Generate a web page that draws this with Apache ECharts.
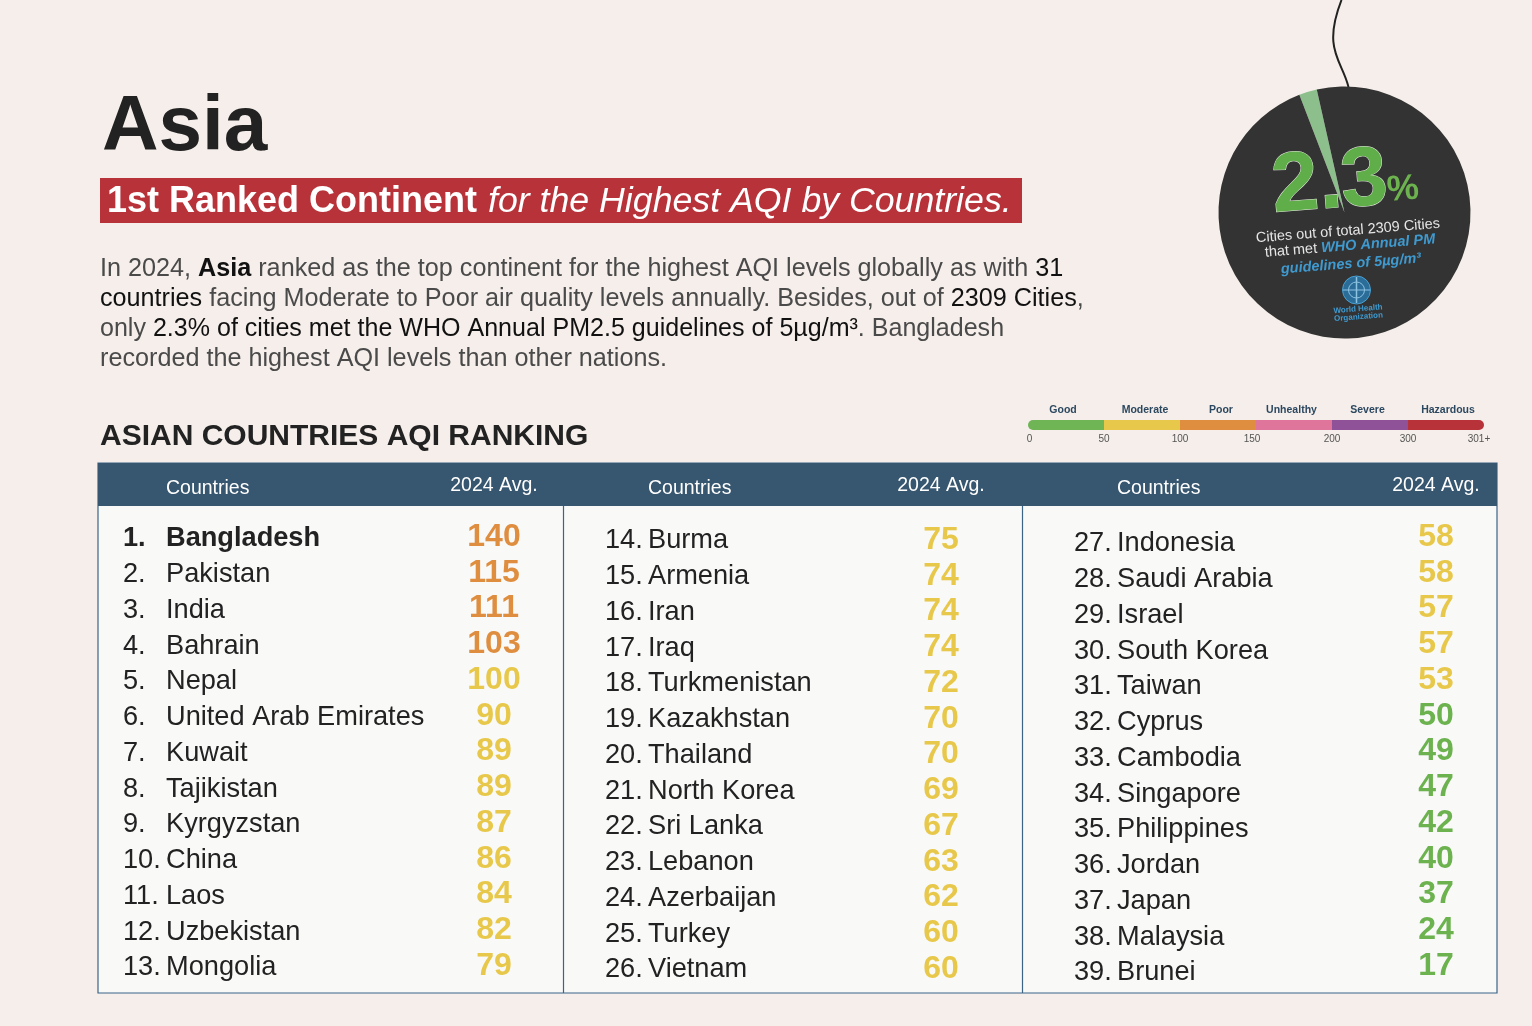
<!DOCTYPE html>
<html><head><meta charset="utf-8">
<style>html,body{margin:0;padding:0;background:#F5EEEA}#c{width:1532px;height:1026px}</style>
<script src="https://cdn.jsdelivr.net/npm/echarts@6/dist/echarts.min.js"></script>
</head><body><div id="c"></div>
<script>
const countriesA = ['Bangladesh','Pakistan','India','Bahrain','Nepal','United Arab Emirates','Kuwait','Tajikistan','Kyrgyzstan','China','Laos','Uzbekistan','Mongolia'];
const valuesA = [140,115,111,103,100,90,89,89,87,86,84,82,79];
const countriesB = ['Burma','Armenia','Iran','Iraq','Turkmenistan','Kazakhstan','Thailand','North Korea','Sri Lanka','Lebanon','Azerbaijan','Turkey','Vietnam'];
const valuesB = [75,74,74,74,72,70,70,69,67,63,62,60,60];
const countriesC = ['Indonesia','Saudi Arabia','Israel','South Korea','Taiwan','Cyprus','Cambodia','Singapore','Philippines','Jordan','Japan','Malaysia','Brunei'];
const valuesC = [58,58,57,57,53,50,49,47,42,40,37,24,17];
const legendNames = ['Good','Moderate','Poor','Unhealthy','Severe','Hazardous'];
const legendTicks = ['0','50','100','150','200','300','301+'];
const legendColors = ['#6FB455','#E8C84A','#DF8E3F','#E0759C','#8F5198','#B8323A'];
const metShare = [2.3, 97.7];

const FONT = '"Liberation Sans", Arial, sans-serif';
const ROW = 35.75;
const INK = '#222222', SOFT = '#4a4a4a', NAVY = '#37566F';
const FS = 27.2;

function aqiColor(v){ return v <= 50 ? '#6CB24F' : v <= 100 ? '#E8C84A' : '#DF8E3F'; }

const cols = [
  {names:countriesA, vals:valuesA, first:1,  nameLeft:123,  nameY:539, valX:494,  valY:537, hdrX:166},
  {names:countriesB, vals:valuesB, first:14, nameLeft:605,  nameY:541, valX:941,  valY:540, hdrX:648},
  {names:countriesC, vals:valuesC, first:27, nameLeft:1074, nameY:544, valX:1436, valY:537, hdrX:1117}
];

const grid=[], xAxis=[], yAxis=[], series=[];
cols.forEach((c,k)=>{
  const gi = grid.length;
  grid.push({left:c.nameLeft, top:c.nameY-ROW/2, width:330, height:ROW*13});
  xAxis.push({gridIndex:gi, type:'value', min:0, max:1, show:false});
  yAxis.push({gridIndex:gi, type:'category', inverse:true, data:c.names,
    axisLine:{show:false}, axisTick:{show:false}, splitLine:{show:false},
    axisLabel:{inside:true, margin:0, interval:0, align:'left', color:INK, fontFamily:FONT, fontSize:FS,
      formatter:(v,i)=>{ const b = c.first+i===1 ? 'b':''; return `{r${b}|${c.first+i}.}{n${b}|${v}}`; },
      rich:{
        r:{width:43,fontSize:FS,fontFamily:FONT,color:INK},
        n:{fontSize:FS,fontFamily:FONT,color:INK},
        rb:{width:43,fontSize:FS,fontWeight:'bold',fontFamily:FONT,color:INK},
        nb:{fontSize:FS,fontWeight:'bold',fontFamily:FONT,color:INK}
      }}});
  const gv = grid.length;
  grid.push({left:c.valX-40, top:c.valY-ROW/2, width:80, height:ROW*13});
  xAxis.push({gridIndex:gv, type:'category', data:['2024 Avg.'], position:'top',
    axisLine:{show:false}, axisTick:{show:false},
    axisLabel:{color:'#ffffff', fontFamily:FONT, fontSize:19.5, interval:0, margin:c.valY-ROW/2-496}});
  yAxis.push({gridIndex:gv, type:'category', inverse:true, data:c.names, show:false});
  series.push({type:'scatter', xAxisIndex:gv, yAxisIndex:gv, symbolSize:0, silent:true, z:5,
    itemStyle:{opacity:1},
    data:c.vals.map((v,i)=>({value:['2024 Avg.', c.names[i]], aqi:v, label:{color:aqiColor(v)}})),
    label:{show:true, position:'inside', opacity:1, fontFamily:FONT, fontWeight:'bold', fontSize:32,
      formatter:p=>p.data.aqi},
    labelLayout:{hideOverlap:false}});
});

// AQI legend
const legendNudge = [[0,6,0,0],[0,0,0,6],[0,0,0,6],[0,5,0,0],[0,5,0,0],[0,0,0,4]];
const gl = grid.length;
grid.push({left:1028, top:420, width:456, height:10});
xAxis.push({gridIndex:gl, type:'category', position:'top',
  data:legendNames.map((n,i)=>({value:n, textStyle:{padding:legendNudge[i]}})),
  axisLine:{show:false}, axisTick:{show:false},
  axisLabel:{interval:0, margin:4, color:'#2C4860', fontFamily:FONT, fontWeight:'bold', fontSize:10.5}});
const glv = xAxis.length;
xAxis.push({gridIndex:gl, type:'value', min:0, max:6, interval:1, position:'bottom',
  axisLine:{show:false}, axisTick:{show:false}, splitLine:{show:false},
  axisLabel:{margin:4, color:'#555555', fontFamily:FONT, fontSize:10, showMinLabel:true, showMaxLabel:true,
    hideOverlap:false,
    formatter:(v,i)=> i===3 ? `{a|${legendTicks[i]}}` : i===6 ? `{b|${legendTicks[i]}}` : i===0 ? `{c|${legendTicks[i]}}` : legendTicks[i],
    rich:{a:{padding:[0,8,0,0],color:'#555555',fontFamily:FONT,fontSize:10},
          b:{padding:[0,10,0,0],color:'#555555',fontFamily:FONT,fontSize:10},
          c:{padding:[0,0,0,3],color:'#555555',fontFamily:FONT,fontSize:10}}}});
const gly = yAxis.length;
yAxis.push({gridIndex:gl, type:'value', min:0, max:1, show:false});
series.push({type:'bar', xAxisIndex:glv-1, yAxisIndex:gly, barWidth:'100%', silent:true, z:5,
  data:legendNames.map((n,i)=>({value:1,
    itemStyle:{color:legendColors[i],
      borderRadius:i===0?[5,0,0,5]:i===5?[0,5,5,0]:0}}))});
series.push({type:'line', xAxisIndex:glv, yAxisIndex:gly, data:[], silent:true});

// 2.3 % disc
series.push({type:'pie', center:[1344.5,212.5], radius:[0,126], startAngle:111, silent:true, z:3,
  label:{show:false}, labelLine:{show:false}, emphasis:{disabled:true}, animation:false,
  data:[{value:metShare[0], name:'Met', itemStyle:{color:'#8DBF8C'}},
        {value:metShare[1], name:'Not met', itemStyle:{color:'#333333'}}]});

const txt=(x,y,text,font,color)=>({type:'text',x,y,z:4,
  style:{text,x:0,y:0,font,fill:color,verticalAlign:'middle',align:'left'}});

const mkRich = PS => ({
  a:{fontFamily:FONT,fontSize:PS,fill:SOFT,color:SOFT},
  d:{fontFamily:FONT,fontSize:PS,fill:'#111',color:'#111'},
  b:{fontFamily:FONT,fontSize:PS,fontWeight:'bold',fill:'#111',color:'#111'}
});
const para = (y,t,ps)=>({type:'text',x:100,y,z:4,style:{text:t,rich:mkRich(ps),verticalAlign:'middle',fill:SOFT}});

const ang = 4.5*Math.PI/180;
const graphic = [
  {type:'rect',z:-5,shape:{x:98,y:463,width:1399,height:530},style:{fill:'#F9F9F8',stroke:'#3B6488',lineWidth:1.2}},
  {type:'rect',z:-4,shape:{x:98,y:463,width:1399,height:43},style:{fill:NAVY}},
  {type:'line',z:-4,shape:{x1:563.5,y1:506,x2:563.5,y2:993},style:{stroke:'#3B6488',lineWidth:1.2}},
  {type:'line',z:-4,shape:{x1:1022.5,y1:506,x2:1022.5,y2:993},style:{stroke:'#3B6488',lineWidth:1.2}},
  txt(102,128,'Asia',`bold 78.3px ${FONT}`,'#222222'),
  {type:'rect',z:-4,shape:{x:100,y:178,width:922,height:45},style:{fill:'#B8323A'}},
  txt(107,202,'1st Ranked Continent',`bold 36px ${FONT}`,'#ffffff'),
  txt(488,202,'for the Highest AQI by Countries.',`italic 35.7px ${FONT}`,'#ffffff'),
  para(269,'{a|In 2024, }{b|Asia}{a| ranked as the top continent for the highest AQI levels globally as with }{d|31}',25.2),
  para(299,'{d|countries}{a| facing Moderate to Poor air quality levels annually. Besides, out of }{d|2309 Cities}{a|,}',25.2),
  para(329,'{a|only }{d|2.3% of cities met the WHO Annual PM2.5 guidelines of 5µg/m³}{a|. Bangladesh}',25.06),
  para(359,'{a|recorded the highest AQI levels than other nations.}',25.2),
  txt(100,437,'ASIAN COUNTRIES AQI RANKING',`bold 30px ${FONT}`,'#222222'),
  ...cols.map(c=>txt(c.hdrX,489,'Countries',`19.5px ${FONT}`,'#ffffff')),
  {type:'bezierCurve',z:4,shape:{x1:1341.5,y1:0,cpx1:1322,cpy1:50,cpx2:1342,cpy2:60,x2:1348.5,y2:87},style:{stroke:'#222',lineWidth:2,fill:null}},
  {type:'text',x:1272,y:189,z:6,rotation:ang,style:{text:'2.',font:`bold 84px ${FONT}`,fill:'#5FAE4A',stroke:'#E8F0E0',lineWidth:1,verticalAlign:'middle'}},
  {type:'text',x:1341,y:184,z:6,rotation:ang,style:{text:'3',font:`bold 84px ${FONT}`,fill:'#5FAE4A',stroke:'#E8F0E0',lineWidth:1,verticalAlign:'middle'}},
  {type:'text',x:1387,y:191,z:6,rotation:ang,style:{text:'%',font:`bold 36px ${FONT}`,fill:'#6CB24F',verticalAlign:'middle'}},
  {type:'text',x:1348,y:231,z:6,rotation:ang,style:{text:'Cities out of total 2309 Cities',font:`14.5px ${FONT}`,fill:'#E6E6E6',align:'center',verticalAlign:'middle'}},
  {type:'text',x:1350,y:246,z:6,rotation:ang,style:{text:'{w|that met }{b|WHO Annual PM}',align:'center',verticalAlign:'middle',
    rich:{w:{fontFamily:FONT,fontSize:14.5,fill:'#E6E6E6',color:'#E6E6E6'},b:{fontFamily:FONT,fontSize:14.5,fontWeight:'bold',fontStyle:'italic',fill:'#3F9AD0',color:'#3F9AD0'}}}},
  {type:'text',x:1351,y:264,z:6,rotation:ang,style:{text:'guidelines of 5µg/m³',font:`italic bold 14.5px ${FONT}`,fill:'#3F9AD0',align:'center',verticalAlign:'middle'}},
  {type:'circle',z:6,shape:{cx:1356.5,cy:290,r:14},style:{fill:'#2B6D99',stroke:'#4BA0D0',lineWidth:1}},
  {type:'circle',z:7,shape:{cx:1356.5,cy:290,r:8},style:{fill:null,stroke:'#8CC2E2',lineWidth:1}},
  {type:'line',z:7,shape:{x1:1343,y1:290,x2:1370,y2:290},style:{stroke:'#8CC2E2',lineWidth:1}},
  {type:'line',z:7,shape:{x1:1356.5,y1:277,x2:1356.5,y2:303},style:{stroke:'#8CC2E2',lineWidth:1.5}},
  {type:'text',x:1358,y:309,z:6,rotation:ang,style:{text:'World Health',font:`bold 8px ${FONT}`,fill:'#3F9AD0',align:'center',verticalAlign:'middle'}},
  {type:'text',x:1358.5,y:317,z:6,rotation:ang,style:{text:'Organization',font:`bold 8px ${FONT}`,fill:'#3F9AD0',align:'center',verticalAlign:'middle'}}
];

const chart = echarts.init(document.getElementById('c'), null, {renderer:'canvas', width:1532, height:1026});
chart.setOption({animation:false, backgroundColor:'#F5EEEA', tooltip:{show:false}, grid, xAxis, yAxis, series, graphic});
</script></body></html>
